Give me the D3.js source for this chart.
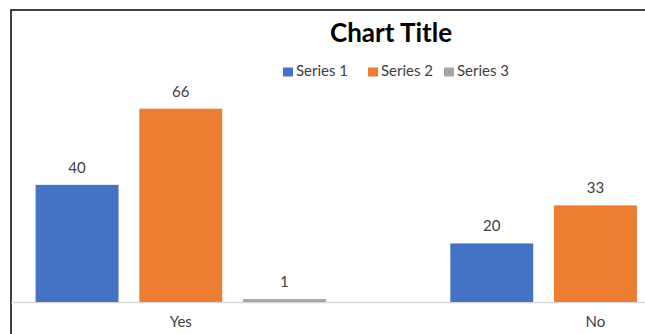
<!DOCTYPE html>
<html>
<head>
<meta charset="utf-8">
<script src="https://cdn.jsdelivr.net/npm/d3@7"></script>
<style>
  html, body { margin: 0; padding: 0; background: #fff; overflow: hidden; }
  text { font-family: Lato, "Open Sans", sans-serif; }
</style>
</head>
<body>
<div id="chart"></div>
<script>
// chart values
const categories = ['Yes', 'No'];
const seriesNames = ['Series 1', 'Series 2', 'Series 3'];
const series1 = [40, 20];
const series2 = [66, 33];
const series3 = [1, 0];
const seriesColors = ['#4472C4', '#ED7D31', '#A5A5A5'];

const width = 645,
  height = 334,
  baseline = 302,
  yTop = 97;

const svg = d3.select('#chart').append('svg')
  .attr('width', width)
  .attr('height', height);

// cropped chart frame, only left + top edges visible
svg.append('defs').append('clipPath').attr('id', 'frame')
  .append('rect')
  .attr('x', 11.5).attr('y', 10.5)
  .attr('width', 800).attr('height', 400);

svg.append('rect')
  .attr('x', 11).attr('y', 10)
  .attr('width', 800).attr('height', 400)
  .attr('fill', 'none')
  .attr('stroke', '#000')
  .attr('stroke-width', 1.5);

const g = svg.append('g').attr('clip-path', 'url(#frame)');

const x0 = d3.scaleBand()
  .domain(categories)
  .range([-26.6, 802.8])
  .paddingInner(0.3)
  .paddingOuter(0.15);

const x1 = d3.scaleBand()
  .domain(seriesNames)
  .range([0, x0.bandwidth()])
  .paddingInner(0.2);

const y = d3.scaleLinear()
  .domain([0, 70])
  .range([baseline, yTop]);

const data = categories.map((c, i) => ({
  category: c,
  values: [series1[i], series2[i], series3[i]].map((v, j) => ({ name: seriesNames[j], value: v, color: seriesColors[j] }))
}));

// category axis
const xAxis = d3.axisBottom(x0).tickSize(0).tickPadding(14);
const axisG = g.append('g')
  .attr('class', 'x-axis')
  .attr('transform', 'translate(0,' + baseline + ')')
  .call(xAxis);
axisG.select('.domain').attr('stroke', '#D9D9D9').attr('stroke-width', 1.5);
axisG.selectAll('text')
  .attr('fill', '#404040')
  .style('font-size', '15px')
  .style('font-family', 'Lato, sans-serif');

const groups = g.selectAll('.group')
  .data(data)
  .enter().append('g')
  .attr('class', 'group')
  .attr('transform', d => 'translate(' + x0(d.category) + ',0)');

groups.selectAll('rect')
  .data(d => d.values)
  .enter().append('rect')
  .attr('x', d => x1(d.name))
  .attr('y', d => y(d.value))
  .attr('width', x1.bandwidth())
  .attr('height', d => baseline - y(d.value))
  .attr('fill', d => d.color);

// labels that would fall past the cropped right edge are skipped
groups.selectAll('.label')
  .data(d => d.values.map(v => Object.assign({ cat: d.category }, v))
    .filter(v => x0(v.cat) + x1(v.name) + x1.bandwidth() / 2 < width - 10))
  .enter().append('text')
  .attr('class', 'label')
  .attr('x', d => x1(d.name) + x1.bandwidth() / 2)
  .attr('y', d => y(d.value) - 12)
  .attr('text-anchor', 'middle')
  .attr('fill', '#404040')
  .style('font-size', '15px')
  .text(d => d.value);

// title
svg.append('text')
  .attr('x', 391)
  .attr('y', 42)
  .attr('text-anchor', 'middle')
  .attr('fill', '#000')
  .style('font-size', '26px')
  .style('font-weight', 'bold')
  .text('Chart Title');

// legend
const legendX = [283, 368, 444];
const legend = svg.selectAll('.legend')
  .data(seriesNames)
  .enter().append('g')
  .attr('class', 'legend')
  .attr('transform', (d, i) => 'translate(' + legendX[i] + ',66)');

legend.append('rect')
  .attr('width', 10).attr('height', 9).attr('y', 1.5)
  .attr('fill', (d, i) => seriesColors[i]);

legend.append('text')
  .attr('x', 13)
  .attr('y', 10)
  .attr('fill', '#404040')
  .style('font-size', '15px')
  .text(d => d);
</script>
</body>
</html>
